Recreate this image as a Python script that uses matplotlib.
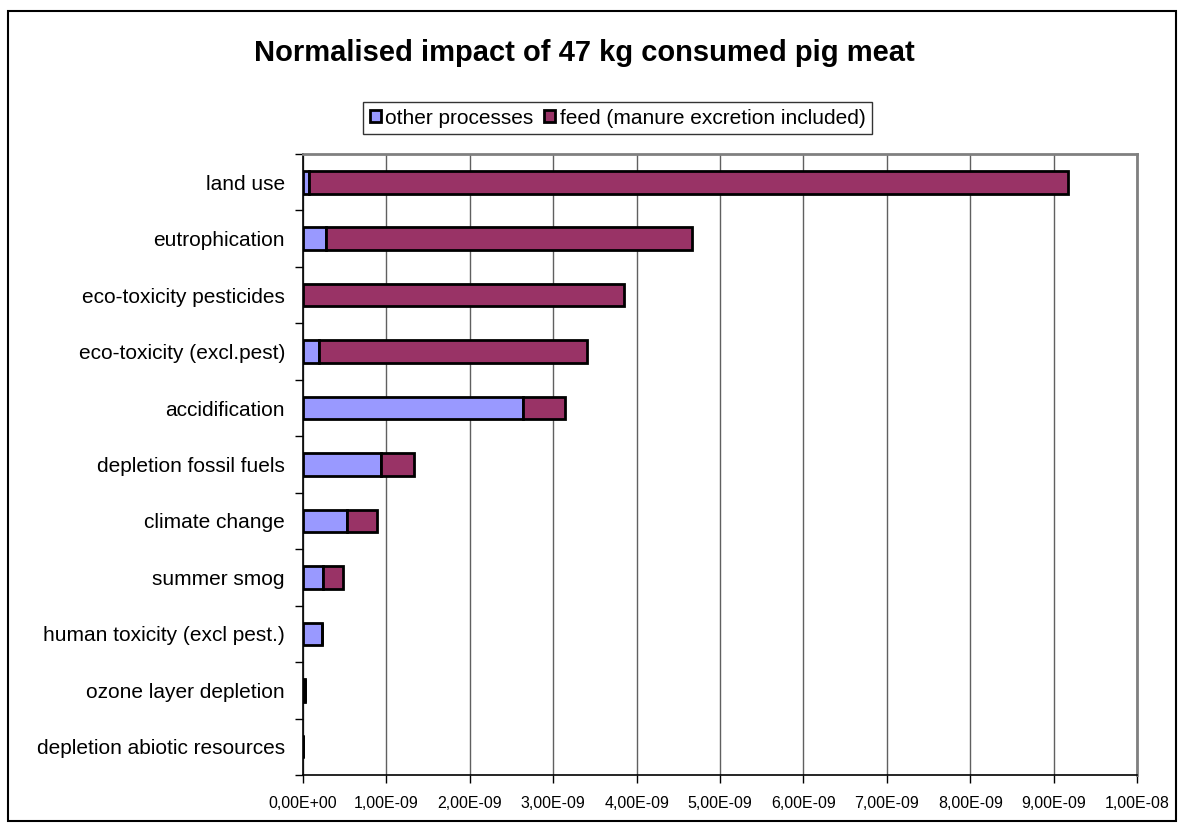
import numpy as np
import matplotlib
matplotlib.use("Agg")
import matplotlib.pyplot as plt
from matplotlib.patches import Rectangle
from matplotlib.ticker import FixedLocator

plt.rcParams['font.family'] = ['Liberation Sans', 'DejaVu Sans']

# categories, top to bottom
categories = ["land use", "eutrophication", "eco-toxicity pesticides",
              "eco-toxicity (excl.pest)", "accidification", "depletion fossil fuels",
              "climate change", "summer smog", "human toxicity (excl pest.)",
              "ozone layer depletion", "depletion abiotic resources"]
other_processes = np.array([0.07, 0.27, 0.0, 0.19, 2.64, 0.93, 0.53, 0.24, 0.23, 0.02, 0.0]) * 1e-9
feed_totals = np.array([9.17, 4.66, 3.85, 3.41, 3.14, 1.33, 0.89, 0.48, 0.23, 0.02, 0.0]) * 1e-9
feed = feed_totals - other_processes
xticks = np.arange(0, 11) * 1e-9
xtick_labels = ["0,00E+00"] + ["%d,00E-09" % i for i in range(1, 10)] + ["1,00E-08"]

fig = plt.figure(figsize=(11.84, 8.31), dpi=100)
ax = fig.add_axes([0.2559, 0.0674, 0.9603 - 0.2559, 0.8147 - 0.0674])

y = np.arange(len(categories))
h = 0.4
ax.barh(y, other_processes, height=h, color="#9999FF", edgecolor="black", linewidth=2,
        label="other processes", zorder=3)
ax.barh(y, feed, left=other_processes, height=h, color="#993366", edgecolor="black",
        linewidth=2, label="feed (manure excretion included)", zorder=3)

ax.set_ylim(len(categories) - 0.5, -0.5)
ax.set_xlim(0, 1e-8)
ax.set_yticks(y)
ax.set_yticklabels(categories, fontsize=15)
ax.yaxis.set_minor_locator(FixedLocator(np.arange(-0.5, len(categories), 1.0)))
ax.tick_params(axis="y", which="major", length=0, pad=13)
ax.tick_params(axis="y", which="minor", length=6, width=1, direction="out")
ax.set_xticks(xticks)
ax.set_xticklabels(xtick_labels, fontsize=11.5)
ax.tick_params(axis="x", length=6, width=1, direction="out", pad=9)

ax.grid(axis="x", color="#606060", linewidth=1, zorder=0)
ax.set_axisbelow(True)
for s in ["top", "right"]:
    ax.spines[s].set_color("#808080")
    ax.spines[s].set_linewidth(2)
for s in ["left", "bottom"]:
    ax.spines[s].set_color("black")
    ax.spines[s].set_linewidth(1.2)

fig.text(0.4935, 0.936, "Normalised impact of 47 kg consumed pig meat", ha="center",
         va="center", fontsize=21, fontweight="bold")

leg = fig.legend(loc="center", bbox_to_anchor=(0.5215, 0.858), ncol=2, fontsize=15,
                 frameon=True, fancybox=False, edgecolor="black", handlelength=0.55,
                 handleheight=0.55, handletextpad=0.2, columnspacing=0.5,
                 borderpad=0.3, borderaxespad=0)
leg.get_frame().set_linewidth(1)

fig.patches.append(Rectangle((8 / 1184, 1 - 821 / 831), 1168 / 1184, 810 / 831,
                             transform=fig.transFigure, fill=False, edgecolor="black",
                             linewidth=1.5))

fig.savefig("out.png", dpi=100)
